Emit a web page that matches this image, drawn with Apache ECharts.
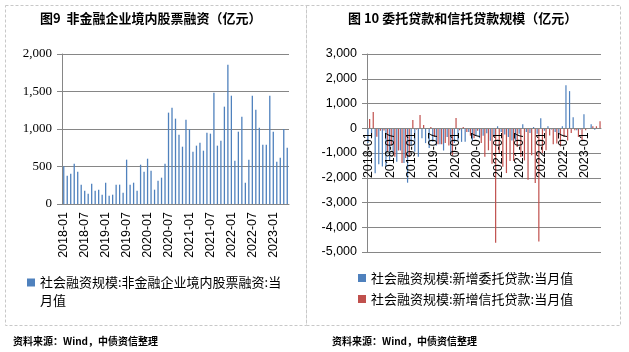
<!DOCTYPE html>
<html>
<head>
<meta charset="utf-8">
<script src="https://cdn.jsdelivr.net/npm/echarts@6/dist/echarts.min.js"></script>
<style>
  body { margin: 0; background: #fff; }
  #main { width: 629px; height: 352px; }
</style>
</head>
<body>
<div id="main"></div>
<script>
  // 月份（2018-01 ~ 2023-05）
  var months = [
    '2018-01','2018-02','2018-03','2018-04','2018-05','2018-06','2018-07','2018-08','2018-09','2018-10','2018-11','2018-12',
    '2019-01','2019-02','2019-03','2019-04','2019-05','2019-06','2019-07','2019-08','2019-09','2019-10','2019-11','2019-12',
    '2020-01','2020-02','2020-03','2020-04','2020-05','2020-06','2020-07','2020-08','2020-09','2020-10','2020-11','2020-12',
    '2021-01','2021-02','2021-03','2021-04','2021-05','2021-06','2021-07','2021-08','2021-09','2021-10','2021-11','2021-12',
    '2022-01','2022-02','2022-03','2022-04','2022-05','2022-06','2022-07','2022-08','2022-09','2022-10','2022-11','2022-12',
    '2023-01','2023-02','2023-03','2023-04','2023-05'
  ];

  // 图9 非金融企业境内股票融资
  var equityFin = [
    502, 378, 404, 538, 431, 258, 178, 138, 271, 178, 191, 124,
    284, 111, 124, 258, 258, 151, 591, 258, 284, 178, 524, 431,
    604, 444, 191, 311, 351, 538, 1218, 1284, 1138, 924, 764, 1124,
    1000, 698, 778, 818, 711, 951, 938, 1484, 778, 844, 1298, 1858,
    1444, 578, 964, 1164, 284, 591, 1444, 1258, 1018, 791, 791, 1444,
    964, 564, 618, 1000, 751
  ];

  // 图10 新增委托贷款
  var entrustLoan = [
    -600, -350, -1820, -1450, -1550, -1570, -1300, -1000, -1350, -900, -1400, -2200,
    -700, -950, -1150, -400, -600, -800, -550, -700, -650, -900, -350, -1000,
    -600, -500, -550, -550, -150, -500, -300, -400, -300, -200, -500, -350,
    80, -150, -250, -350, -490, -490, -220, 160, -150, -190, 50, -220,
    405, -100, 80, -50, -150, -200, 80, 1740, 1500, 445, -80, -50,
    570, -30, 160, -60, -30
  ];

  // 图10 新增信托贷款
  var trustLoan = [
    370, 660, -340, -100, -90, -940, -700, -1150, -900, -1400, -1200, -1150,
    336, -50, 540, 135, -30, 54, -350, -650, -650, -600, -700, -1100,
    417, -80, 54, -150, -300, -400, -100, -600, -1150, -890, -1430, -4630,
    -1030, -1560, -1810, -1320, -1320, -760, -1160, -1300, -2080, -1090, -2210, -4580,
    -1000, -890, -290, -650, -620, -730, -350, -490, -190, -80, -350, -490,
    -80, -20, 80, 80, 280
  ];

  var nameEquity = '社会融资规模:非金融企业境内股票融资:当月值';
  var nameEntrust = '社会融资规模:新增委托贷款:当月值';
  var nameTrust = '社会融资规模:新增信托贷款:当月值';

  var GRAY = '#868686';
  var CJK = 'Noto Sans CJK SC';

  function thousands(v) {
    return v.toLocaleString('en-US');
  }

  var chart = echarts.init(document.getElementById('main'));

  var option = {
    animation: false,
    backgroundColor: '#fff',
    title: [{
      text: '图9  非金融企业境内股票融资（亿元）',
      left: 40, top: 12, padding: 0,
      textStyle: { fontSize: 13, fontWeight: 'bold', fontFamily: CJK, color: '#000' }
    }, {
      text: '图 10 委托贷款和信托贷款规模（亿元）',
      left: 348, top: 12, padding: 0,
      textStyle: { fontSize: 13, fontWeight: 'bold', fontFamily: CJK, color: '#000' }
    }],
    legend: [{
      data: [nameEquity],
      left: 27, top: 276, padding: 0,
      itemWidth: 8, itemHeight: 8,
      icon: 'rect',
      formatter: function (name) {
        return name.slice(0, name.length - 2);
      },
      textStyle: { fontSize: 13, fontFamily: CJK, color: '#000' }
    }, {
      data: [nameEntrust, nameTrust],
      orient: 'vertical',
      left: 358, top: 271, padding: 0,
      itemWidth: 8, itemHeight: 8, itemGap: 7,
      icon: 'rect',
      textStyle: { fontSize: 13, lineHeight: 14, fontFamily: CJK, color: '#000' }
    }],
    grid: [
      { left: 62, top: 54, width: 227, height: 150 },
      { left: 367, top: 54, width: 234, height: 198 }
    ],
    xAxis: [{
      type: 'category',
      gridIndex: 0,
      data: months,
      axisLine: { lineStyle: { color: GRAY } },
      axisTick: { interval: 5, length: 5, lineStyle: { color: GRAY } },
      axisLabel: { interval: 5, rotate: 90, margin: 8, fontSize: 12.5, fontFamily: 'Liberation Sans', color: '#000' }
    }, {
      // 轴放在 0 值处（网格高198，0 在 3/8 处）
      type: 'category',
      gridIndex: 1,
      data: months,
      z: 5,
      offset: -123.75,
      axisLine: { onZero: false, lineStyle: { color: GRAY } },
      axisTick: { show: false },
      axisLabel: { interval: 5, rotate: 90, margin: 4, fontSize: 12.5, fontFamily: 'Liberation Sans', color: '#000' }
    }],
    yAxis: [{
      type: 'value',
      gridIndex: 0,
      min: 0, max: 2000, interval: 500,
      axisLine: { show: true, lineStyle: { color: GRAY } },
      axisTick: { show: true, length: 5, lineStyle: { color: GRAY } },
      splitLine: { lineStyle: { color: GRAY, width: 1 } },
      axisLabel: { formatter: thousands, margin: 10, fontSize: 13, fontFamily: 'Liberation Serif', color: '#000' }
    }, {
      type: 'value',
      gridIndex: 1,
      min: -5000, max: 3000, interval: 1000,
      axisLine: { show: true, onZero: false, lineStyle: { color: GRAY } },
      axisTick: { show: true, length: 5, lineStyle: { color: GRAY } },
      splitLine: { lineStyle: { color: GRAY, width: 1 } },
      axisLabel: { formatter: thousands, margin: 10, fontSize: 12.5, fontFamily: 'Liberation Sans', color: '#000' }
    }],
    series: [{
      name: nameEquity,
      type: 'bar',
      xAxisIndex: 0, yAxisIndex: 0,
      barWidth: 1.3,
      itemStyle: { color: '#4F81BD' },
      data: equityFin
    }, {
      name: nameEntrust,
      type: 'bar',
      xAxisIndex: 1, yAxisIndex: 1,
      barWidth: 1.2, barGap: '40%',
      itemStyle: { color: '#4F81BD' },
      data: entrustLoan
    }, {
      name: nameTrust,
      type: 'bar',
      xAxisIndex: 1, yAxisIndex: 1,
      barWidth: 1.2, barGap: '40%',
      itemStyle: { color: '#C0504D' },
      data: trustLoan
    }],
    graphic: [{
      type: 'rect',
      shape: { x: 5.5, y: 5.5, width: 301, height: 320 },
      style: { fill: 'none', stroke: '#c8c8c8', lineWidth: 1, lineDash: [3, 2] },
      silent: true
    }, {
      type: 'rect',
      shape: { x: 306.5, y: 5.5, width: 314, height: 320 },
      style: { fill: 'none', stroke: '#c8c8c8', lineWidth: 1, lineDash: [3, 2] },
      silent: true
    }, {
      type: 'text',
      x: 40, y: 300,
      style: { text: '月值', fontSize: 13, fontFamily: CJK, fill: '#000', verticalAlign: 'middle' }
    }, {
      type: 'text',
      x: 13, y: 341,
      style: { text: '资料来源：Wind，中债资信整理', fontSize: 10, fontWeight: 'bold', fontFamily: CJK, fill: '#000', verticalAlign: 'middle' }
    }, {
      type: 'text',
      x: 332, y: 341,
      style: { text: '资料来源：Wind，中债资信整理', fontSize: 10, fontWeight: 'bold', fontFamily: CJK, fill: '#000', verticalAlign: 'middle' }
    }]
  };

  chart.setOption(option);
</script>
</body>
</html>
